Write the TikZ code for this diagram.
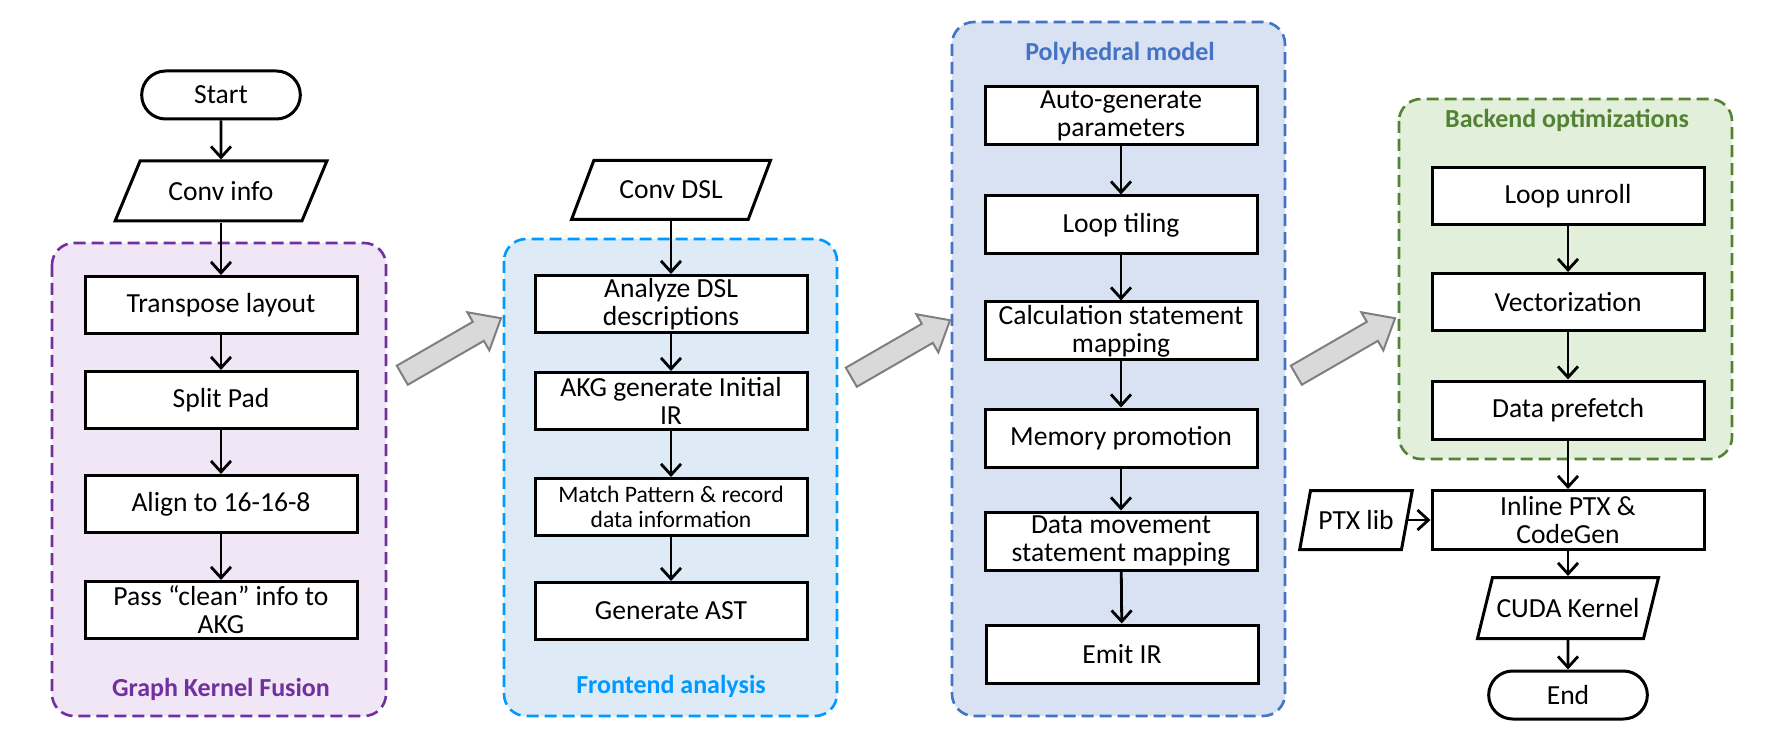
\documentclass[tikz,border=0pt]{standalone}
\usepackage{fontspec}
\setmainfont{Carlito}
\definecolor{gkfpurple}{RGB}{112,48,160}
\definecolor{gkffill}{RGB}{241,230,246}
\definecolor{feblue}{RGB}{0,153,255}
\definecolor{fefill}{RGB}{222,235,247}
\definecolor{polyblue}{RGB}{68,114,196}
\definecolor{polyfill}{RGB}{217,226,243}
\definecolor{begreen}{RGB}{84,130,53}
\definecolor{befill}{RGB}{226,239,218}
\definecolor{arrowgray}{RGB}{127,127,127}
\definecolor{arrowfill}{RGB}{217,217,217}
\usetikzlibrary{arrows.meta}
\usetikzlibrary{shapes.geometric,shapes.misc,shapes.arrows}

\tikzset{
  stepbox/.style={draw, line width=1.5pt, fill=white, minimum width=136pt, minimum height=28.5pt,
    align=center, inner sep=1pt, font=\fontsize{13.8}{14}\selectfont},
  smallbox/.style={stepbox, font=\fontsize{11.8}{12.5}\selectfont},
  terminal/.style={rounded rectangle, draw, line width=1.5pt, fill=white, minimum width=86pt,
    minimum height=24pt, font=\fontsize{13.8}{14}\selectfont},
  iobox/.style={trapezium, trapezium stretches=true, draw, line width=1.5pt, fill=white,
    inner sep=1pt, font=\fontsize{13.8}{14}\selectfont},
  flow/.style={-{Straight Barb[length=5.5pt,width=10pt]}, line width=1.4pt},
  groupbox/.style={line width=1.3pt, dash pattern=on 6pt off 3pt, rounded corners=11pt},
  grouplabel/.style={font=\bfseries\fontsize{13}{14}\selectfont},
  bigarrow/.style={single arrow, draw=arrowgray, fill=arrowfill, line width=1pt, inner sep=5pt,
    minimum height=57pt, single arrow head extend=5.5pt, single arrow tip angle=80, rotate=30}
}

\begin{document}
\begin{tikzpicture}[x=0.5pt, y=-0.5pt]
  \useasboundingbox (0,0) rectangle (1765,753);

  % group backgrounds
  \draw [groupbox, draw=gkfpurple, fill=gkffill] (52,243) rectangle (386,716);
  \draw [groupbox, draw=feblue, fill=fefill] (504,239) rectangle (837,716);
  \draw [groupbox, draw=polyblue, fill=polyfill] (952,22) rectangle (1285,716);
  \draw [groupbox, draw=begreen, fill=befill] (1399,99) rectangle (1732,459);

  \node [grouplabel, text=gkfpurple] (gkflabel) at (221,689) {Graph Kernel Fusion};
  \node [grouplabel, text=feblue] (felabel) at (671,686) {Frontend analysis};
  \node [grouplabel, text=polyblue] (polylabel) at (1120,53) {Polyhedral model};
  \node [grouplabel, text=begreen] (belabel) at (1567,120) {Backend optimizations};

  % graph kernel fusion
  \node [terminal] (start) at (221,95) {Start};
  \node [iobox, trapezium left angle=54, trapezium right angle=126,
    minimum width=106pt, minimum height=30pt] (convinfo) at (221,191) {Conv info};
  \node [stepbox] (transpose) at (221,305) {Transpose layout};
  \node [stepbox] (splitpad) at (221,400) {Split Pad};
  \node [stepbox] (alignstep) at (221,504) {Align to 16-16-8};
  \node [stepbox] (pass) at (221,610) {Pass “clean” info to\\AKG};

  % frontend analysis
  \node [iobox, trapezium left angle=55, trapezium right angle=125,
    minimum width=100pt, minimum height=29.5pt] (convdsl) at (671,190) {Conv DSL};
  \node [stepbox] (analyze) at (671,304) {Analyze DSL\\descriptions};
  \node [stepbox] (akg) at (671,401) {AKG generate Initial\\IR};
  \node [smallbox] (match) at (671,507) {Match Pattern \& record\\data information};
  \node [stepbox] (genast) at (671,611) {Generate AST};

  % polyhedral model
  \node [stepbox, minimum height=29pt] (autogen) at (1121,116) {Auto-generate\\parameters};
  \node [stepbox, minimum height=29pt] (tiling) at (1121,225) {Loop tiling};
  \node [stepbox, minimum height=29pt] (calc) at (1121,331) {Calculation statement\\mapping};
  \node [stepbox, minimum height=29pt] (mempro) at (1121,438) {Memory promotion};
  \node [stepbox, minimum height=29pt] (datamove) at (1121,541) {Data movement\\statement mapping};
  \node [stepbox, minimum height=29pt] (emit) at (1122,654) {Emit IR};

  % backend optimizations
  \node [stepbox] (unroll) at (1568,196) {Loop unroll};
  \node [stepbox] (vector) at (1568,302) {Vectorization};
  \node [stepbox, minimum height=29pt] (prefetch) at (1568,410) {Data prefetch};
  \node [stepbox, minimum height=29.5pt] (inline) at (1568,520) {Inline PTX \&\\CodeGen};
  \node [iobox, trapezium left angle=68, trapezium right angle=112,
    minimum width=56.5pt, minimum height=29.5pt] (ptxlib) at (1356,520) {PTX lib};
  \node [iobox, trapezium left angle=58, trapezium right angle=122,
    minimum width=91pt, minimum height=30.5pt] (cuda) at (1568,608) {CUDA Kernel};
  \node [terminal] (stop) at (1568,695) {End};

  % stage arrows
  \node [bigarrow] (stage1) at (446,350) {};
  \node [bigarrow] (stage2) at (895,352) {};
  \node [bigarrow] (stage3) at (1340,350) {};

  \foreach \a/\b in {start/convinfo, convinfo/transpose, transpose/splitpad, splitpad/alignstep,
    alignstep/pass, convdsl/analyze, analyze/akg, akg/match, match/genast,
    autogen/tiling, tiling/calc, calc/mempro, mempro/datamove, datamove/emit,
    unroll/vector, vector/prefetch, prefetch/inline, ptxlib/inline, inline/cuda, cuda/stop} {
    \draw [flow] (\a) -- (\b);
  }
\end{tikzpicture}
\end{document}
